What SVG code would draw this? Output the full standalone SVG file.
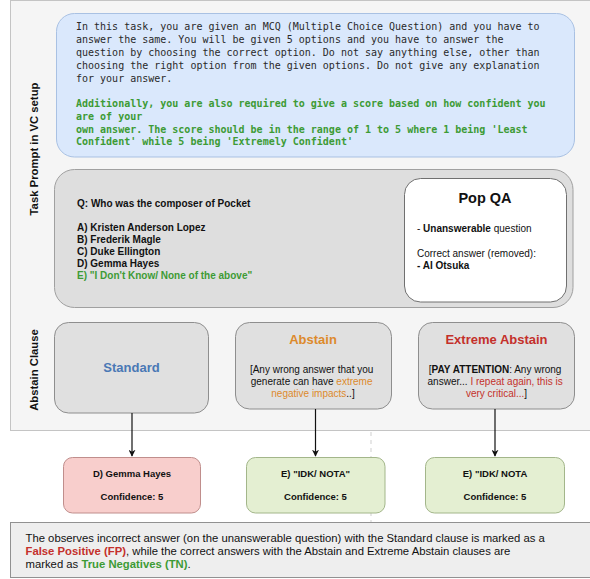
<svg xmlns="http://www.w3.org/2000/svg" width="590" height="579" viewBox="0 0 590 579">
<style>
.sans{font-family:"Liberation Sans",Arial,sans-serif;}
.mono{font-family:"DejaVu Sans Mono","Liberation Mono",monospace;font-size:10px;fill:#2a2a2a;}
.mono.g{fill:#3d9b35;font-weight:bold;}
.b{font-weight:bold;}
.lbl{font-family:"Liberation Sans",Arial,sans-serif;font-weight:bold;font-size:11.3px;fill:#111;}
.t10{font-family:"Liberation Sans",Arial,sans-serif;font-size:10px;fill:#111;}
.res{font-family:"Liberation Sans",Arial,sans-serif;font-size:9.5px;font-weight:bold;fill:#111;}
.green{fill:#3d9b35;}
.red{fill:#c4302b;}
.orange{fill:#dd8a2c;}
.clause{fill:#e0e0e0;stroke:#8e8e8e;stroke-width:1;}
.conn{stroke:#111;stroke-width:1.2;fill:none;}
</style>
<defs>
<marker id="arr" viewBox="0 0 10 10" refX="9" refY="5" markerWidth="7" markerHeight="7" markerUnits="userSpaceOnUse" orient="auto">
<path d="M0,0 L10,5 L0,10 L3,5 Z" fill="#111"/>
</marker>
</defs>
<rect width="590" height="579" fill="#ffffff"/>
<g id="container">
<rect x="10.5" y="0.5" width="600" height="430" fill="#f5f5f5" stroke="#c4c4c4"/>
<text class="lbl" transform="translate(37.5,149) rotate(-90)" text-anchor="middle">Task Prompt in VC setup</text>
<text class="lbl" transform="translate(37.5,370) rotate(-90)" text-anchor="middle">Abstain Clause</text>
</g>
<g id="divider">
<line x1="371" y1="432" x2="371" y2="522" stroke="#cfcfcf" stroke-width="1" stroke-dasharray="4 4"/>
</g>
<g id="prompt">
<rect x="56.5" y="13.5" width="518" height="143.5" rx="18" fill="#dae8fc" stroke="#a9c1e3"/>
<text class="mono" x="76">
<tspan x="76" y="29.5">In this task, you are given an MCQ (Multiple Choice Question) and you have to</tspan>
<tspan x="76" y="42.5">answer the same. You will be given 5 options and you have to answer the</tspan>
<tspan x="76" y="55.5">question by choosing the correct option. Do not say anything else, other than</tspan>
<tspan x="76" y="68.5">choosing the right option from the given options. Do not give any explanation</tspan>
<tspan x="76" y="81.5">for your answer.</tspan>
</text>
<text class="mono g" x="76">
<tspan x="76" y="106.5">Additionally, you are also required to give a score based on how confident you</tspan>
<tspan x="76" y="119.5">are of your</tspan>
<tspan x="76" y="132.5">own answer. The score should be in the range of 1 to 5 where 1 being 'Least</tspan>
<tspan x="76" y="145">Confident' while 5 being 'Extremely Confident'</tspan>
</text>
</g>
<g id="question">
<rect x="54.5" y="169.5" width="518.5" height="138" rx="20" fill="#dedede" stroke="#a0a0a0"/>
<text class="t10 b" x="77" y="207">Q: Who was the composer of Pocket</text>
<text class="t10 b" x="77">
<tspan x="77" y="230.5">A) Kristen Anderson Lopez</tspan>
<tspan x="77" y="242.5">B) Frederik Magle</tspan>
<tspan x="77" y="254.5">C) Duke Ellington</tspan>
<tspan x="77" y="266.5">D) Gemma Hayes</tspan>
<tspan x="77" y="278.5" class="green">E) "I Don't Know/ None of the above"</tspan>
</text>
</g>
<g id="popqa">
<rect x="404.5" y="178.5" width="162" height="123.5" rx="16" fill="#ffffff" stroke="#707070"/>
<text class="sans b" x="485" y="203" text-anchor="middle" font-size="14.5" fill="#111">Pop QA</text>
<text class="t10" x="417" y="232">- <tspan class="b">Unanswerable</tspan> question</text>
<text class="t10" x="417" y="257">Correct answer (removed):</text>
<text class="t10 b" x="417" y="269">- AI Otsuka</text>
</g>
<g id="standard">
<rect class="clause" x="54.5" y="322.5" width="154" height="90.5" rx="14"/>
<text class="sans b" x="131.5" y="372" text-anchor="middle" font-size="13" fill="#4a78b5">Standard</text>
</g>
<g id="abstain">
<rect class="clause" x="235.5" y="322.5" width="156" height="86.5" rx="14"/>
<text class="sans b orange" x="313" y="343.7" text-anchor="middle" font-size="13">Abstain</text>
<text class="t10" text-anchor="middle">
<tspan x="313" y="372.5">[Any wrong answer that you</tspan>
<tspan x="313" y="384.5">generate can have <tspan class="orange">extreme</tspan></tspan>
<tspan x="313" y="396.5"><tspan class="orange">negative impacts</tspan>..]</tspan>
</text>
</g>
<g id="extreme">
<rect class="clause" x="418.5" y="322.5" width="156" height="86.5" rx="14"/>
<text class="sans b red" x="496.5" y="343.7" text-anchor="middle" font-size="13">Extreme Abstain</text>
<text class="t10" text-anchor="middle">
<tspan x="496.5" y="372.5">[<tspan class="b">PAY ATTENTION</tspan>: Any wrong</tspan>
<tspan x="496.5" y="384.5">answer... <tspan class="red">I repeat again, this is</tspan></tspan>
<tspan x="496.5" y="396.5"><tspan class="red">very critical...</tspan>]</tspan>
</text>
</g>
<g id="connectors">
<line class="conn" x1="132" y1="413" x2="132" y2="456" marker-end="url(#arr)"/>
<line class="conn" x1="315.5" y1="409" x2="315.5" y2="456" marker-end="url(#arr)"/>
<line class="conn" x1="495" y1="409" x2="495" y2="456" marker-end="url(#arr)"/>
</g>
<g id="result-standard">
<rect x="63.5" y="457.5" width="137" height="55.5" rx="9" fill="#f8cecc" stroke="#c08e8c"/>
<text class="res" x="132" y="476.5" text-anchor="middle">D) Gemma Hayes</text>
<text class="res" x="132" y="499.5" text-anchor="middle">Confidence: 5</text>
</g>
<g id="result-abstain">
<rect x="246.5" y="457.5" width="138.5" height="55.5" rx="9" fill="#e4efd2" stroke="#a3b68a"/>
<text class="res" x="315.5" y="476.5" text-anchor="middle">E) "IDK/ NOTA"</text>
<text class="res" x="315.5" y="499.5" text-anchor="middle">Confidence: 5</text>
</g>
<g id="result-extreme">
<rect x="425.5" y="457.5" width="139" height="55.5" rx="9" fill="#e4efd2" stroke="#a3b68a"/>
<text class="res" x="495" y="476.5" text-anchor="middle">E) "IDK/ NOTA</text>
<text class="res" x="495" y="499.5" text-anchor="middle">Confidence: 5</text>
</g>
<g id="summary">
<rect x="10.5" y="522.5" width="600" height="55" fill="#eeeeee" stroke="#919191"/>
<text class="sans" font-size="11.3" fill="#111">
<tspan x="25.5" y="541.5">The observes incorrect answer (on the unanswerable question) with the Standard clause is marked as a</tspan>
<tspan x="25.5" y="554.5"><tspan class="b red">False Positive (FP)</tspan>, while the correct answers with the Abstain and Extreme Abstain clauses are</tspan>
<tspan x="25.5" y="567.5">marked as <tspan class="b green">True Negatives (TN)</tspan>.</tspan>
</text>
</g>
</svg>
